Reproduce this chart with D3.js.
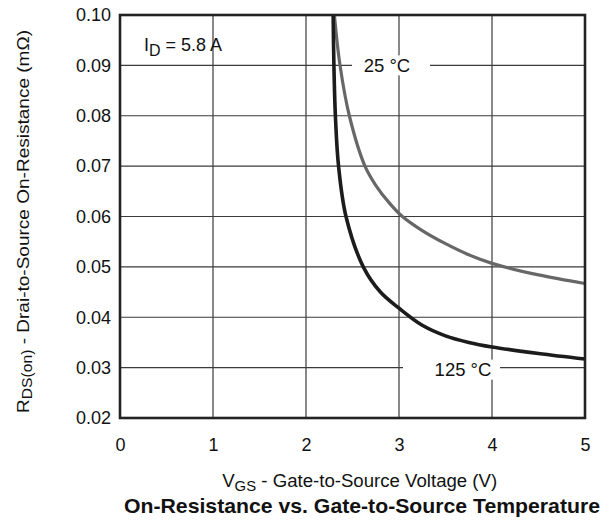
<!DOCTYPE html>
<html><head><meta charset="utf-8">
<script src="https://cdn.jsdelivr.net/npm/d3@7"></script>
<style>body{margin:0;background:#fff}text{font-family:"Liberation Sans",Arial,sans-serif;fill:#111}</style>
</head><body><svg id="c" width="611" height="522"></svg>
<script>
const xTicks=[0,1,2,3,4,5];
const yTicks=[0.02,0.03,0.04,0.05,0.06,0.07,0.08,0.09,0.10];
const yTickLabels=["0.02","0.03","0.04","0.05","0.06","0.07","0.08","0.09","0.10"];
const vgs125=[2.292,2.300,2.316,2.350,2.43,2.616,2.8,3.0,3.25,3.5,3.75,4.0,4.5,5.0];
const r125=[0.100,0.090,0.080,0.070,0.060,0.050,0.045,0.0418,0.0384,0.0363,0.0350,0.0341,0.0328,0.0317];
const vgs25=[2.305,2.366,2.466,2.634,2.75,2.9,3.03,3.25,3.5,3.75,4.0,4.5,5.0];
const r25=[0.100,0.090,0.080,0.070,0.0662,0.0626,0.0601,0.0572,0.0546,0.0524,0.0507,0.0484,0.0467];

const svg=d3.select("#c");
const L=120,R=585,T=15,B=418;
const x=d3.scaleLinear().domain([0,5]).range([L,R]);
const y=d3.scaleLinear().domain([0.02,0.10]).range([B,T]);
const fs=18;
const FF="Liberation Sans, Arial, sans-serif";

// grid
svg.append("g").selectAll("line").data(xTicks).join("line")
 .attr("x1",d=>x(d)).attr("x2",d=>x(d)).attr("y1",T).attr("y2",B)
 .attr("stroke","#3a3a3a").attr("stroke-width",1.2);
svg.append("g").selectAll("line").data(yTicks).join("line")
 .attr("y1",d=>y(d)).attr("y2",d=>y(d)).attr("x1",L).attr("x2",R)
 .attr("stroke","#3a3a3a").attr("stroke-width",1.2);

// axes labels via d3 axes
const xAxis=d3.axisBottom(x).tickValues(xTicks).tickSize(0).tickPadding(20).tickFormat(d3.format("d"));
const gx=svg.append("g").attr("transform",`translate(0,${B})`).call(xAxis);
gx.select(".domain").remove();
gx.selectAll("text").attr("font-size",fs).attr("fill","#111").style("font-family",FF);
const yAxis=d3.axisLeft(y).tickValues(yTicks).tickSize(0).tickPadding(9).tickFormat((d,i)=>yTickLabels[i]);
const gy=svg.append("g").attr("transform",`translate(${L},0)`).call(yAxis);
gy.select(".domain").remove();
gy.selectAll("text").attr("font-size",fs).attr("fill","#111").style("font-family",FF);

// label boxes
function label(txt,cx,cy,x0,x1){
  svg.append("rect").attr("x",x0).attr("y",cy-10).attr("width",x1-x0).attr("height",20).attr("fill","#fff");
  svg.append("text").attr("x",cx).attr("y",cy).attr("dy","0.36em").attr("text-anchor","middle").attr("font-size",18.5).text(txt);
}

svg.append("clipPath").attr("id","pc").append("rect").attr("x",L).attr("y",T).attr("width",R-L).attr("height",B-T);
const line=d3.line().x(d=>x(d[0])).y(d=>y(d[1])).curve(d3.curveCatmullRom.alpha(0.5));
const d25=vgs25.map((v,i)=>[v,r25[i]]);
const d125=vgs125.map((v,i)=>[v,r125[i]]);

label("25 °C",387,y(0.09),352,430);
label("125 °C",463,y(0.03)+2,403,500);

svg.append("path").attr("d",line(d25)).attr("fill","none").attr("stroke","#676767").attr("stroke-width",3.2).attr("clip-path","url(#pc)");
svg.append("path").attr("d",line(d125)).attr("fill","none").attr("stroke","#1c1c1c").attr("stroke-width",3.6).attr("clip-path","url(#pc)");

// border
svg.append("rect").attr("x",L).attr("y",T).attr("width",R-L).attr("height",B-T).attr("fill","none").attr("stroke","#222").attr("stroke-width",2.6);

// I_D label
const id=svg.append("text").attr("x",144).attr("y",51).attr("font-size",18.5).attr("textLength",78).attr("lengthAdjust","spacingAndGlyphs");
id.append("tspan").text("I");
id.append("tspan").attr("font-size",16.5).attr("dy",4.5).text("D");
id.append("tspan").attr("dy",-4.5).text(" = 5.8 A");

// x title
const xt=svg.append("text").attr("x",359.7).attr("y",487).attr("text-anchor","middle").attr("font-size",17.5)
  .attr("textLength",275).attr("lengthAdjust","spacingAndGlyphs");
xt.append("tspan").text("V");
xt.append("tspan").attr("font-size",14).attr("dy",3.5).text("GS");
xt.append("tspan").attr("dy",-3.5).text(" - Gate-to-Source Voltage (V)");

svg.append("text").attr("x",362).attr("y",513).attr("text-anchor","middle").attr("font-size",20.5).attr("font-weight","bold")
  .attr("textLength",476).attr("lengthAdjust","spacingAndGlyphs").text("On-Resistance vs. Gate-to-Source Temperature");

// y title
const yt=svg.append("text").attr("transform","translate(28.5,221.5) rotate(-90)").attr("text-anchor","middle").attr("font-size",17)
  .attr("textLength",383).attr("lengthAdjust","spacingAndGlyphs");
yt.append("tspan").text("R");
yt.append("tspan").attr("font-size",14).attr("dy",3.5).text("DS(on)");
yt.append("tspan").attr("dy",-3.5).text(" - Drai-to-Source On-Resistance (mΩ)");
</script></body></html>
